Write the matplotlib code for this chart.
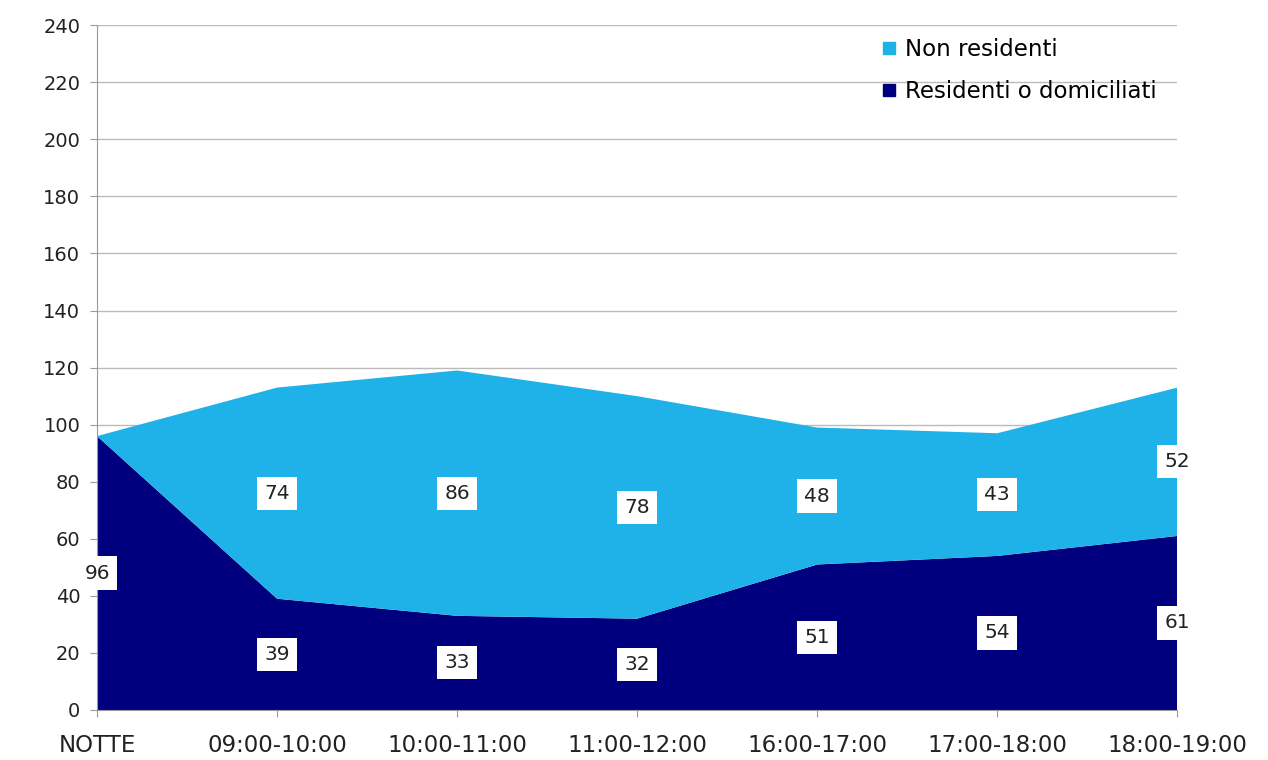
import matplotlib
matplotlib.use("Agg")
import matplotlib.pyplot as plt
from matplotlib.lines import Line2D

categories = ["NOTTE", "09:00-10:00", "10:00-11:00", "11:00-12:00", "16:00-17:00", "17:00-18:00", "18:00-19:00"]
residenti = [96, 39, 33, 32, 51, 54, 61]
non_residenti = [0, 74, 86, 78, 48, 43, 52]

plt.rcParams['font.family'] = ['DejaVu Sans']

fig = plt.figure(figsize=(12.68, 7.6), dpi=100)
ax = fig.add_axes([0.0765, 0.0658, 0.852, 0.901])

dark = "#00007F"
light = "#1EB2E8"
x = list(range(len(categories)))
ax.stackplot(x, residenti, non_residenti, colors=[dark, light], linewidth=0, zorder=2)

ax.set_xlim(0, len(categories) - 1)
ax.set_ylim(0, 240)
ax.set_yticks(range(0, 241, 20))
ax.set_xticks(x)
ax.set_xticklabels(categories)
ax.tick_params(axis='both', colors="#222222", length=5, color="#999999")
ax.tick_params(axis='x', labelsize=16.5, pad=12)
ax.tick_params(axis='y', labelsize=14, pad=7)
ax.grid(axis='y', color="#bbbbbb", linewidth=1, zorder=0)
for s in ["top", "right"]:
    ax.spines[s].set_visible(False)
ax.spines["left"].set_color("#999999")
ax.spines["bottom"].set_color("#999999")

for i in x:
    r = residenti[i]
    n = non_residenti[i]
    ax.text(i, r / 2, str(r), ha='center', va='center', fontsize=14.5, color="#222222",
            bbox=dict(boxstyle='square,pad=0.35', fc='white', ec='none'), zorder=5, clip_on=False)
    if n > 0:
        ax.text(i, r + n / 2, str(n), ha='center', va='center', fontsize=14.5, color="#222222",
                bbox=dict(boxstyle='square,pad=0.35', fc='white', ec='none'), zorder=5, clip_on=False)

handles = [Line2D([], [], marker='s', linestyle='none', color=light, markersize=8),
           Line2D([], [], marker='s', linestyle='none', color=dark, markersize=8)]
leg = ax.legend(handles, ["Non residenti", "Residenti o domiciliati"], loc='upper right',
                bbox_to_anchor=(1.0, 1.012), frameon=False, fontsize=16.5, handletextpad=0.2,
                handlelength=1.0, labelspacing=0.85)

fig.savefig("out.png", dpi=100, facecolor='white')
